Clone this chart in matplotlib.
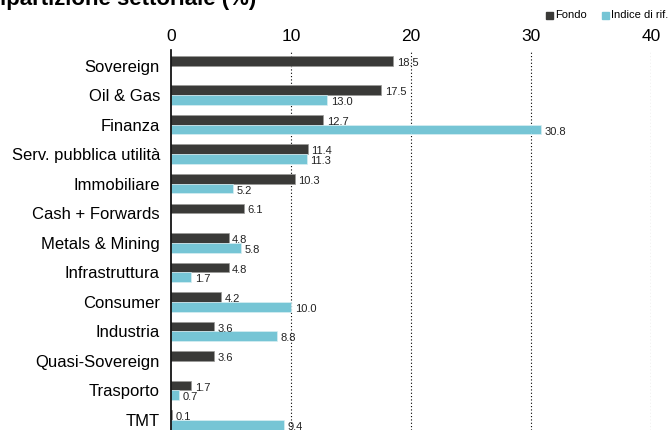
import matplotlib.pyplot as plt
from matplotlib.patches import Rectangle
import numpy as np

plt.rcParams['font.family'] = ['Liberation Sans', 'DejaVu Sans']

# Data
sectors = ['Sovereign', 'Oil & Gas', 'Finanza', 'Serv. pubblica utilità',
           'Immobiliare', 'Cash + Forwards', 'Metals & Mining', 'Infrastruttura',
           'Consumer', 'Industria', 'Quasi-Sovereign', 'Trasporto', 'TMT']
fondo = [18.5, 17.5, 12.7, 11.4, 10.3, 6.1, 4.8, 4.8, 4.2, 3.6, 3.6, 1.7, 0.1]
indice = [None, 13.0, 30.8, 11.3, 5.2, None, 5.8, 1.7, 10.0, 8.8, None, 0.7, 9.4]
x_ticks = [0, 10, 20, 30, 40]

dark = '#3a3a38'
light = '#76c5d5'

W, H = 669, 430
fig = plt.figure(figsize=(W / 100, H / 100), dpi=100)
ax = fig.add_axes([171 / W, 0.0, (651 - 171) / W, (430 - 50) / H])

y = np.arange(len(sectors))
h = 0.33

for i, v in enumerate(fondo):
    ax.barh(y[i] - h / 2, v, height=h, color=dark, edgecolor='#9a9a98', linewidth=0.5)
    ax.text(v + 0.3, y[i] - h / 2 + 0.07, f'{v:.1f}', fontsize=8, va='center', color='#222222')
for i, v in enumerate(indice):
    if v is None:
        continue
    ax.barh(y[i] + h / 2, v, height=h, color=light, edgecolor='#d8eef3', linewidth=0.5)
    ax.text(v + 0.3, y[i] + h / 2 + 0.07, f'{v:.1f}', fontsize=8, va='center', color='#222222')

ax.set_ylim(12.34, -0.53)
ax.set_xlim(0, 40)
ax.set_yticks(y)
ax.set_yticklabels(sectors, fontsize=12)
ax.tick_params(axis='y', length=0, pad=8)

ax.xaxis.tick_top()
ax.set_xticks(x_ticks)
ax.set_xticklabels([str(t) for t in x_ticks], fontsize=12.5)
ax.tick_params(axis='x', length=0, pad=4)

for t in x_ticks[1:]:
    ax.axvline(t, color='black', linestyle=(0, (1, 2)), linewidth=0.8, zorder=0)

for s in ['top', 'right', 'bottom']:
    ax.spines[s].set_visible(False)
ax.spines['left'].set_color('black')
ax.spines['left'].set_linewidth(1.2)

# title, cut at the top edge like the source
fig.text(-16 / W, 1 - 4.5 / H, 'Ripartizione settoriale (%)', fontsize=16,
         fontweight='bold', va='baseline', ha='left')

# legend
for x0, col, lab in [(546, dark, 'Fondo'), (602, light, 'Indice di rif.')]:
    fig.patches.append(Rectangle((x0 / W, 1 - 19 / H), 7 / W, 7 / H,
                                 transform=fig.transFigure, color=col))
    fig.text((x0 + 9) / W, 1 - 15.5 / H, lab, fontsize=8, va='center', ha='left')

fig.savefig('out.png', dpi=100)
